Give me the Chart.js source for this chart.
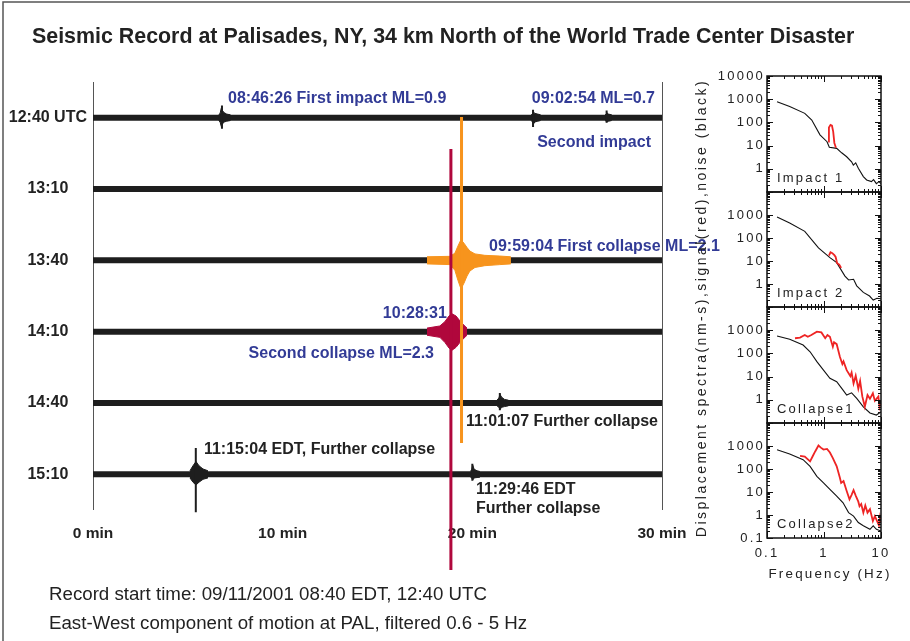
<!DOCTYPE html>
<html>
<head>
<meta charset="utf-8">
<script src="https://cdn.jsdelivr.net/npm/chart.js@4.4.0/dist/chart.umd.min.js"></script>
<style>
  html, body { margin: 0; padding: 0; background: #fff; }
  #wrap { position: relative; width: 910px; height: 641px; overflow: hidden; }
  #wrap canvas { position: absolute; }
</style>
</head>
<body>
<div id="wrap">
  <canvas id="seis" width="910" height="641" style="left:0;top:0;width:910px;height:641px"></canvas>
</div>
<script>
// ---- seismogram ----------------------------------------------------------
const traceLabels = ['12:40 UTC', '13:10', '13:40', '14:10', '14:40', '15:10'];
const minuteTicks = [0, 10, 20, 30];

// event envelopes: time (min), half width above / below the trace (trace spacing units)
const imp1T = [6.62, 6.7, 6.76, 6.82, 6.92, 7.05, 7.25];
const imp1Up = [0.04, 0.06, 0.13, 0.1, 0.07, 0.05, 0.04];
const imp1Dn = [0.04, 0.06, 0.12, 0.09, 0.06, 0.05, 0.04];

const imp2T = [23.1, 23.17, 23.22, 23.3, 23.45, 23.6];
const imp2Up = [0.04, 0.05, 0.08, 0.06, 0.05, 0.04];
const imp2Dn = [0.04, 0.06, 0.09, 0.06, 0.05, 0.04];

const blipT = [27.0, 27.05, 27.09, 27.18, 27.35];
const blipUp = [0.04, 0.05, 0.07, 0.05, 0.04];
const blipDn = [0.04, 0.05, 0.06, 0.05, 0.04];

const col1T = [17.61, 18.82, 19.08, 19.24, 19.4, 19.56, 19.72, 19.87, 20.14, 20.66, 21.45, 22.03];
const col1Up = [0.05, 0.056, 0.1, 0.2, 0.29, 0.24, 0.18, 0.13, 0.09, 0.07, 0.06, 0.05];
const col1Dn = [0.05, 0.06, 0.14, 0.28, 0.4, 0.32, 0.22, 0.15, 0.1, 0.075, 0.06, 0.05];

const col2T = [17.61, 18.29, 18.55, 18.77, 18.93, 19.14, 19.35, 19.56, 19.72];
const col2Up = [0.05, 0.08, 0.14, 0.22, 0.25, 0.22, 0.15, 0.09, 0.05];
const col2Dn = [0.05, 0.08, 0.15, 0.23, 0.26, 0.22, 0.15, 0.09, 0.05];

const fc1T = [21.3, 21.4, 21.46, 21.55, 21.7, 21.9];
const fc1Up = [0.04, 0.07, 0.12, 0.08, 0.05, 0.04];
const fc1Dn = [0.04, 0.06, 0.09, 0.06, 0.05, 0.04];

const fc2T = [5.11, 5.27, 5.43, 5.59, 5.8, 6.06];
const fc2Up = [0.05, 0.12, 0.18, 0.12, 0.075, 0.05];
const fc2Dn = [0.05, 0.11, 0.15, 0.11, 0.07, 0.05];

const fc3T = [19.9, 19.97, 20.02, 20.1, 20.25, 20.4];
const fc3Up = [0.04, 0.07, 0.13, 0.07, 0.05, 0.04];
const fc3Dn = [0.04, 0.05, 0.08, 0.05, 0.045, 0.04];

// peak spikes: [time, up, down]
const imp1Peak = [6.8, 0.17, 0.155];
const imp2Peak = [23.2, 0.11, 0.13];
const blipPeak = [27.08, 0.1, 0.07];
const col1Peak = [19.43, 2.01, 2.56];
const col2Peak = [18.87, 2.56, 3.34];
const fc1Peak = [21.45, 0.14, 0.1];
const fc2Peak = [5.42, 0.37, 0.53];
const fc3Peak = [20.0, 0.15, 0.09];

// colored stretches of trace: [start, end]
const col1Span = [17.61, 22.03];
const col2Span = [17.61, 19.72];

// ---- spectra (frequency Hz, displacement nm-s) ----------------------------
const noise1F = [0.15, 0.25, 0.46, 0.61, 0.85, 1.13, 1.24, 1.67, 2.04, 2.5, 3.05, 3.27, 3.6, 4.0, 4.9, 5.6, 6.8, 7.4, 8.3, 9.2, 10];
const noise1V = [780, 480, 245, 126, 29, 14.7, 8.5, 7.6, 4.9, 3.3, 2.0, 1.45, 1.8, 1.05, 0.46, 0.33, 0.28, 0.34, 0.23, 0.28, 0.23];
const sig1F = [1.18, 1.22, 1.3, 1.38, 1.45, 1.52, 1.62];
const sig1V = [15, 60, 78, 72, 40, 13, 8];

const noise2F = [0.15, 0.25, 0.46, 0.8, 1.27, 1.67, 2.33, 2.7, 3.3, 3.75, 4.9, 6.3, 7.3, 8.5, 10];
const noise2V = [810, 445, 195, 37, 14, 8.5, 2.2, 1.5, 1.6, 0.83, 0.43, 0.3, 0.2, 0.24, 0.23];
const sig2F = [1.22, 1.3, 1.4, 1.52, 1.6, 1.7, 1.85, 2.0];
const sig2V = [17, 24, 22, 18, 15, 8, 7, 5];

const noise3F = [0.15, 0.25, 0.43, 0.57, 0.75, 0.98, 1.27, 1.67, 2.16, 2.5, 3.05, 3.75, 4.9, 6.4, 8.3, 10];
const noise3V = [560, 405, 230, 118, 44, 19, 8.4, 6, 2.6, 1.6, 2.0, 1.15, 0.5, 0.27, 0.22, 0.3];
const sig3F = [0.31, 0.38, 0.46, 0.52, 0.6, 0.75, 0.9, 1.05, 1.15, 1.27, 1.43, 1.5, 1.67, 1.9, 2.1, 2.2, 2.5, 2.9, 3.05, 3.3, 3.6, 4.0, 4.3, 4.7, 5.2, 5.8, 6.4, 7.2, 7.8, 9.0, 9.4, 10];
const sig3V = [450, 480, 620, 520, 620, 860, 800, 450, 620, 520, 195, 300, 250, 72, 35, 45, 19, 10.5, 15, 5.1, 11, 3, 6.5, 1.4, 0.5, 1.6, 1.1, 1.9, 0.9, 1.4, 0.5, 0.9];

const noise4F = [0.15, 0.25, 0.43, 0.57, 0.75, 0.98, 1.27, 1.67, 2.16, 2.7, 3.3, 4.0, 4.9, 6.4, 7.3, 8.3, 10];
const noise4V = [690, 450, 255, 130, 48, 25, 13, 6.6, 3.4, 1.27, 0.9, 0.47, 0.34, 0.24, 0.34, 0.24, 0.2];
const sig4F = [0.38, 0.46, 0.57, 0.63, 0.7, 0.8, 0.88, 0.98, 1.13, 1.27, 1.43, 1.67, 1.9, 2.0, 2.2, 2.5, 2.8, 3.05, 3.3, 3.6, 4.0, 4.2, 4.5, 4.9, 5.3, 5.8, 6.4, 7.2, 7.8, 8.5, 9.2, 9.6, 10];
const sig4V = [375, 350, 215, 350, 580, 1050, 850, 700, 750, 520, 300, 130, 42, 25, 30, 11, 4.8, 7.5, 12, 7, 3.8, 2.4, 3, 1.27, 2.6, 1.27, 1.8, 0.55, 0.9, 0.55, 0.35, 0.8, 0.5];

const panelNames = ['Impact 1', 'Impact 2', 'Collapse1', 'Collapse2'];
const freqTicks = [0.1, 1, 10];
const dispTicks = [[1, 10, 100, 1000, 10000], [1, 10, 100, 1000], [1, 10, 100, 1000], [0.1, 1, 10, 100, 1000]];

// --------------------------------------------------------------------------
const FONT = '"Liberation Sans", Arial, Helvetica, sans-serif';
const INK = '#222';
const BLUE = '#323b96';
const TRACE = '#1e1e1e';
const ORANGE = '#f7941d';
const CRIMSON = '#b0073c';
Chart.defaults.font.family = FONT;
Chart.defaults.color = INK;

const datasets = [];
function line(points, color, width, order, extra) {
    return Object.assign({
        data: points, borderColor: color, backgroundColor: color, borderWidth: width,
        pointRadius: 0, tension: 0, fill: false, order: order, borderCapStyle: 'butt'
    }, extra || {});
}
function addEvent(trace, T, up, dn, peak, color, needleW, order) {
    datasets.push(line(T.map((t, k) => ({ x: t, y: trace - up[k] })), color, 1, 3));
    datasets.push(line(T.map((t, k) => ({ x: t, y: trace + dn[k] })), color, 1, 3, { fill: '-1' }));
    datasets.push(line([{ x: peak[0], y: trace - peak[1] }, { x: peak[0], y: trace + peak[2] }], color, needleW, order, { clip: false }));
}

traceLabels.forEach((_, i) => datasets.push(line([{ x: 0, y: i }, { x: 30, y: i }], TRACE, 6, 6)));
datasets.push(line([{ x: col1Span[0], y: 2 }, { x: col1Span[1], y: 2 }], ORANGE, 6, 5));
datasets.push(line([{ x: col2Span[0], y: 3 }, { x: col2Span[1], y: 3 }], CRIMSON, 6, 5));
addEvent(0, imp1T, imp1Up, imp1Dn, imp1Peak, TRACE, 2, 2);
addEvent(0, imp2T, imp2Up, imp2Dn, imp2Peak, TRACE, 2, 2);
addEvent(0, blipT, blipUp, blipDn, blipPeak, TRACE, 2, 2);
addEvent(4, fc1T, fc1Up, fc1Dn, fc1Peak, TRACE, 2, 2);
addEvent(5, fc2T, fc2Up, fc2Dn, fc2Peak, TRACE, 2, 2);
addEvent(5, fc3T, fc3Up, fc3Dn, fc3Peak, TRACE, 2, 2);
addEvent(2, col1T, col1Up, col1Dn, col1Peak, ORANGE, 3, 1);
addEvent(3, col2T, col2Up, col2Dn, col2Peak, CRIMSON, 3, 0);

const decor = {
    id: 'decor',
    afterDraw(chart) {
        const { ctx, scales: { x, y } } = chart;
        ctx.save();
        // frame
        ctx.strokeStyle = '#555';
        ctx.lineWidth = 1.5;
        ctx.beginPath();
        ctx.moveTo(3, 641); ctx.lineTo(3, 2); ctx.lineTo(910, 2);
        ctx.stroke();

        ctx.fillStyle = INK;
        ctx.textBaseline = 'alphabetic';
        ctx.textAlign = 'left';
        ctx.font = 'bold 21.4px ' + FONT;
        ctx.fillText('Seismic Record at Palisades, NY, 34 km North of the World Trade Center Disaster', 32, 43);

        ctx.font = '18.7px ' + FONT;
        ctx.fillText('Record start time: 09/11/2001 08:40 EDT, 12:40 UTC', 49, 600);
        ctx.fillText('East-West component of motion at PAL, filtered 0.6 - 5 Hz', 49, 629);

        const notes = [
            ['08:46:26 First impact ML=0.9', 7.12, -0.27, 'left', BLUE],
            ['09:02:54 ML=0.7', 29.63, -0.27, 'right', BLUE],
            ['Second impact', 29.42, 0.35, 'right', BLUE],
            ['09:59:04 First collapse ML=2.1', 20.88, 1.81, 'left', BLUE],
            ['10:28:31', 18.66, 2.75, 'right', BLUE],
            ['Second collapse ML=2.3', 17.98, 3.31, 'right', BLUE],
            ['11:01:07 Further collapse', 19.66, 4.26, 'left', INK],
            ['11:15:04 EDT, Further collapse', 5.85, 4.65, 'left', INK],
            ['11:29:46 EDT', 20.19, 5.22, 'left', INK],
            ['Further collapse', 20.19, 5.48, 'left', INK]
        ];
        ctx.font = 'bold 16px ' + FONT;
        ctx.textBaseline = 'middle';
        notes.forEach(([t, mx, my, al, c]) => {
            ctx.fillStyle = c;
            ctx.textAlign = al;
            ctx.fillText(t, x.getPixelForValue(mx), y.getPixelForValue(my));
        });

        // spectra axis titles
        ctx.fillStyle = INK;
        ctx.textAlign = 'center';
        ctx.font = '13.4px ' + FONT;
        ctx.letterSpacing = '2.2px';
        ctx.fillText('Frequency (Hz)', 830, 574);
        ctx.font = '14px ' + FONT;
        ctx.letterSpacing = '2.5px';
        ctx.translate(702, 308);
        ctx.rotate(-Math.PI / 2);
        ctx.fillText('Displacement spectra(nm-s),signal(red),noise (black)', 0, 0);
        ctx.restore();
    }
};

new Chart(document.getElementById('seis'), {
    type: 'line',
    data: { datasets },
    options: {
        responsive: false,
        animation: false,
        layout: { padding: { top: 82, right: 248, left: 0, bottom: 0 } },
        plugins: { legend: { display: false }, tooltip: { enabled: false } },
        scales: {
            x: {
                type: 'linear', min: 0, max: 30,
                afterBuildTicks: (s) => { s.ticks = minuteTicks.map(v => ({ value: v })); },
                afterFit: (s) => { s.height = 131; },
                ticks: { font: { size: 15.5, weight: 'bold' }, color: INK, padding: 14, callback: (v) => v + ' min' },
                grid: {
                    drawTicks: false,
                    color: (c) => (c.tick && (c.tick.value === 0 || c.tick.value === 30)) ? '#555' : 'rgba(0,0,0,0)'
                },
                border: { display: false }
            },
            y: {
                type: 'linear', min: -0.5, max: 5.5, reverse: true,
                afterBuildTicks: (s) => { s.ticks = traceLabels.map((_, i) => ({ value: i })); },
                afterFit: (s) => { s.width = 93; },
                ticks: { font: { size: 16, weight: 'bold' }, color: INK, padding: 6, crossAlign: 'center', callback: (v) => traceLabels[v] },
                grid: { display: false, drawTicks: false },
                border: { display: false }
            }
        }
    },
    plugins: [decor]
});

// ---- spectra panels ------------------------------------------------------
const boxTicks = {
    id: 'boxTicks',
    beforeUpdate(chart) { chart.ctx.letterSpacing = '2.2px'; },
    beforeDraw(chart) { chart.ctx.letterSpacing = '2.2px'; },
    afterDraw(chart) {
        const { ctx, chartArea: a, scales: { x, y } } = chart;
        ctx.save();
        ctx.strokeStyle = '#111';
        ctx.lineWidth = 1;
        ctx.beginPath();
        for (let e = -1; e <= 3; e++) {
            for (let m = 1; m <= 10; m++) {
                const v = m * Math.pow(10, e);
                const py = Math.round(y.getPixelForValue(v)) + 0.5;
                const len = m === 1 || m === 10 ? 6 : 3;
                ctx.moveTo(a.left, py); ctx.lineTo(a.left + len, py);
                ctx.moveTo(a.right, py); ctx.lineTo(a.right - len, py);
            }
        }
        for (let e = -1; e <= 0; e++) {
            for (let m = 1; m <= 10; m++) {
                const v = m * Math.pow(10, e);
                const px = Math.round(x.getPixelForValue(v)) + 0.5;
                const len = m === 1 || m === 10 ? 6 : 3;
                ctx.moveTo(px, a.top); ctx.lineTo(px, a.top + len);
                ctx.moveTo(px, a.bottom); ctx.lineTo(px, a.bottom - len);
            }
        }
        ctx.stroke();
        ctx.lineWidth = 1.5;
        ctx.strokeRect(a.left, a.top, a.right - a.left, a.bottom - a.top);
        ctx.fillStyle = INK;
        ctx.font = '13px ' + FONT;
        ctx.letterSpacing = '2.2px';
        ctx.textBaseline = 'middle';
        ctx.textAlign = 'left';
        ctx.fillText(chart.options.panelName, a.left + 10, a.bottom - 13.5);
        ctx.restore();
    }
};

function noEdgePadding(s) {
    s.paddingLeft = 0; s.paddingRight = 0; s.paddingTop = 0; s.paddingBottom = 0;
}

const panelTop = [76, 192, 307, 423];
const panelBot = [192, 307, 423, 538];
const spectra = [[noise1F, noise1V, sig1F, sig1V], [noise2F, noise2V, sig2F, sig2V],
                 [noise3F, noise3V, sig3F, sig3V], [noise4F, noise4V, sig4F, sig4V]];

spectra.forEach(([nF, nV, sF, sV], i) => {
    const last = i === spectra.length - 1;
    const cv = document.createElement('canvas');
    const h = (panelBot[i] - panelTop[i]) + 10 + (last ? 30 : 10);
    cv.width = 190; cv.height = h;
    cv.style.left = '700px';
    cv.style.top = (panelTop[i] - 10) + 'px';
    cv.style.width = '190px';
    cv.style.height = h + 'px';
    document.getElementById('wrap').appendChild(cv);
    new Chart(cv, {
        type: 'line',
        data: {
            datasets: [
                line(sF.map((f, k) => ({ x: f, y: sV[k] })), '#ee2424', 1.8, 1),
                line(nF.map((f, k) => ({ x: f, y: nV[k] })), '#111', 1.1, 2)
            ]
        },
        options: {
            responsive: false,
            animation: false,
            panelName: panelNames[i],
            layout: { padding: { top: 10, bottom: last ? 0 : 10, left: 0, right: 9 } },
            plugins: { legend: { display: false }, tooltip: { enabled: false } },
            scales: {
                x: {
                    type: 'logarithmic', min: 0.1, max: 10, display: last,
                    afterBuildTicks: (s) => { s.ticks = freqTicks.map(v => ({ value: v })); },
                    afterFit: (s) => { s.height = last ? 30 : 0; noEdgePadding(s); },
                    ticks: { font: { size: 13 }, color: INK, padding: 8, maxRotation: 0, callback: (v) => String(v) },
                    grid: { display: false, drawTicks: false },
                    border: { display: false }
                },
                y: {
                    type: 'logarithmic', min: 0.1, max: 10000,
                    afterBuildTicks: (s) => { s.ticks = dispTicks[i].map(v => ({ value: v })); },
                    afterFit: (s) => { s.width = 67; noEdgePadding(s); },
                    ticks: { font: { size: 13 }, color: INK, padding: 2, callback: (v) => String(v) },
                    grid: { display: false, drawTicks: false },
                    border: { display: false }
                }
            }
        },
        plugins: [boxTicks]
    });
});
</script>
</body>
</html>
